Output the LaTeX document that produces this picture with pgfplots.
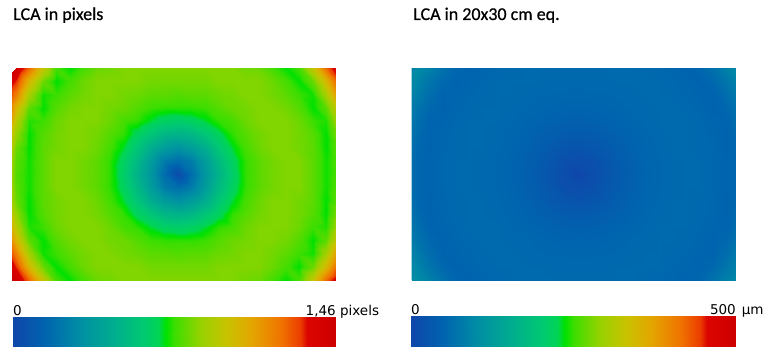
\documentclass[border=0pt]{standalone}
\usepackage{pgfplots}
\usepackage{pgfplotstable}
\pgfplotsset{compat=1.18}
\usepackage{fontspec}
\setmainfont{Carlito}
\newfontfamily\titlefont{Carlito}[FakeBold=0.6]
\newfontfamily\lblfont{DejaVu Sans}

\tikzset{cblabel/.style={inner sep=0pt, yshift=2pt, font=\lblfont\fontsize{13.5}{16}\selectfont}}

\pgfplotsset{
  colormap={lca}{
    rgb255(0pt)=(15,70,170)
    rgb255(100pt)=(0,100,175)
    rgb255(200pt)=(0,140,165)
    rgb255(300pt)=(0,170,145)
    rgb255(400pt)=(0,200,115)
    rgb255(450pt)=(0,213,85)
    rgb255(473pt)=(0,225,0)
    rgb255(500pt)=(60,222,0)
    rgb255(580pt)=(150,210,0)
    rgb255(660pt)=(200,195,0)
    rgb255(740pt)=(228,165,0)
    rgb255(830pt)=(240,115,0)
    rgb255(890pt)=(235,60,0)
    rgb255(910pt)=(220,5,0)
    rgb255(1000pt)=(205,0,0)
  },
  heat/.style={
    anchor=south west,
    width=324pt, height=212pt, scale only axis,
    view={0}{90},
    xmin=0.7037, xmax=24.7037, ymin=0, ymax=16, zmin=-1, zmax=1,
    hide axis,
    colormap name=lca,
    title style={at={(0,1)}, anchor=base west, inner sep=0pt, yshift=42pt,
      font=\titlefont\fontsize{18}{21}\selectfont},
  },
  cbar/.style={
    anchor=south west, scale only axis,
    view={0}{90}, ymin=0, ymax=1, zmin=-1, zmax=1,
    hide axis, colormap name=lca,
  },
}

% LCA in pixels, grid 26 x 17 (13.5 px x 13.25 px), rows bottom to top
\pgfplotstableread[row sep=\\]{
v\\
1.46\\1.45\\1.23\\0.95\\0.74\\0.69\\0.74\\0.79\\0.80\\0.82\\0.82\\0.82\\0.82\\0.82\\0.82\\0.82\\0.82\\0.82\\0.80\\0.79\\0.74\\0.69\\0.74\\0.95\\1.23\\1.45\\
1.46\\1.31\\1.02\\0.79\\0.69\\0.74\\0.79\\0.82\\0.82\\0.82\\0.82\\0.80\\0.80\\0.80\\0.80\\0.80\\0.82\\0.82\\0.82\\0.82\\0.79\\0.74\\0.69\\0.79\\1.02\\1.31\\
1.43\\1.18\\0.88\\0.70\\0.73\\0.77\\0.80\\0.82\\0.82\\0.80\\0.79\\0.77\\0.77\\0.76\\0.77\\0.77\\0.79\\0.80\\0.82\\0.82\\0.80\\0.77\\0.73\\0.70\\0.88\\1.18\\
1.34\\1.02\\0.77\\0.69\\0.76\\0.80\\0.82\\0.82\\0.80\\0.79\\0.76\\0.73\\0.72\\0.72\\0.72\\0.73\\0.76\\0.79\\0.80\\0.82\\0.82\\0.80\\0.76\\0.69\\0.77\\1.02\\
1.24\\0.92\\0.71\\0.73\\0.79\\0.82\\0.82\\0.82\\0.79\\0.74\\0.72\\0.67\\0.63\\0.61\\0.63\\0.67\\0.72\\0.74\\0.79\\0.82\\0.82\\0.82\\0.79\\0.73\\0.71\\0.92\\
1.17\\0.85\\0.69\\0.76\\0.80\\0.82\\0.82\\0.80\\0.76\\0.72\\0.64\\0.57\\0.50\\0.48\\0.50\\0.57\\0.64\\0.72\\0.76\\0.80\\0.82\\0.82\\0.80\\0.76\\0.69\\0.85\\
1.10\\0.79\\0.69\\0.77\\0.80\\0.82\\0.82\\0.79\\0.74\\0.67\\0.57\\0.45\\0.37\\0.32\\0.37\\0.45\\0.57\\0.67\\0.74\\0.79\\0.82\\0.82\\0.80\\0.77\\0.69\\0.79\\
1.05\\0.77\\0.70\\0.77\\0.82\\0.82\\0.80\\0.77\\0.72\\0.63\\0.51\\0.37\\0.23\\0.18\\0.23\\0.37\\0.51\\0.63\\0.72\\0.77\\0.80\\0.82\\0.82\\0.77\\0.70\\0.77\\
1.04\\0.76\\0.70\\0.77\\0.82\\0.82\\0.80\\0.77\\0.72\\0.61\\0.48\\0.34\\0.18\\0.03\\0.18\\0.34\\0.48\\0.61\\0.72\\0.77\\0.80\\0.82\\0.82\\0.77\\0.70\\0.76\\
1.05\\0.77\\0.70\\0.77\\0.82\\0.82\\0.80\\0.77\\0.72\\0.63\\0.51\\0.37\\0.23\\0.18\\0.23\\0.37\\0.51\\0.63\\0.72\\0.77\\0.80\\0.82\\0.82\\0.77\\0.70\\0.77\\
1.10\\0.79\\0.69\\0.77\\0.80\\0.82\\0.82\\0.79\\0.74\\0.67\\0.57\\0.45\\0.37\\0.32\\0.37\\0.45\\0.57\\0.67\\0.74\\0.79\\0.82\\0.82\\0.80\\0.77\\0.69\\0.79\\
1.17\\0.85\\0.69\\0.76\\0.80\\0.82\\0.82\\0.80\\0.76\\0.72\\0.64\\0.57\\0.50\\0.48\\0.50\\0.57\\0.64\\0.72\\0.76\\0.80\\0.82\\0.82\\0.80\\0.76\\0.69\\0.85\\
1.24\\0.92\\0.71\\0.73\\0.79\\0.82\\0.82\\0.82\\0.79\\0.74\\0.72\\0.67\\0.63\\0.61\\0.63\\0.67\\0.72\\0.74\\0.79\\0.82\\0.82\\0.82\\0.79\\0.73\\0.71\\0.92\\
1.34\\1.02\\0.77\\0.69\\0.76\\0.80\\0.82\\0.82\\0.80\\0.79\\0.76\\0.73\\0.72\\0.72\\0.72\\0.73\\0.76\\0.79\\0.80\\0.82\\0.82\\0.80\\0.76\\0.69\\0.77\\1.02\\
1.43\\1.18\\0.88\\0.70\\0.73\\0.77\\0.80\\0.82\\0.82\\0.80\\0.79\\0.77\\0.77\\0.76\\0.77\\0.77\\0.79\\0.80\\0.82\\0.82\\0.80\\0.77\\0.73\\0.70\\0.88\\1.18\\
1.46\\1.31\\1.02\\0.79\\0.69\\0.74\\0.79\\0.82\\0.82\\0.82\\0.82\\0.80\\0.80\\0.80\\0.80\\0.80\\0.82\\0.82\\0.82\\0.82\\0.79\\0.74\\0.69\\0.79\\1.02\\1.31\\
1.46\\1.45\\1.23\\0.95\\0.74\\0.69\\0.74\\0.79\\0.80\\0.82\\0.82\\0.82\\0.82\\0.82\\0.82\\0.82\\0.82\\0.82\\0.80\\0.79\\0.74\\0.69\\0.74\\0.95\\1.23\\1.45\\
}\lcapx

% LCA in micrometres (20x30 cm print equivalent), same grid
\pgfplotstableread[row sep=\\]{
v\\
102\\101\\86\\66\\52\\48\\52\\55\\56\\57\\57\\57\\57\\57\\57\\57\\57\\57\\56\\55\\52\\48\\52\\66\\86\\101\\
102\\92\\71\\55\\48\\52\\55\\57\\57\\57\\57\\56\\56\\56\\56\\56\\57\\57\\57\\57\\55\\52\\48\\55\\71\\92\\
100\\83\\61\\49\\51\\54\\56\\57\\57\\56\\55\\54\\54\\53\\54\\54\\55\\56\\57\\57\\56\\54\\51\\49\\61\\83\\
94\\71\\54\\48\\53\\56\\57\\57\\56\\55\\53\\51\\50\\50\\50\\51\\53\\55\\56\\57\\57\\56\\53\\48\\54\\71\\
87\\64\\49\\51\\55\\57\\57\\57\\55\\52\\50\\47\\44\\43\\44\\47\\50\\52\\55\\57\\57\\57\\55\\51\\49\\64\\
82\\59\\48\\53\\56\\57\\57\\56\\53\\50\\45\\40\\35\\34\\35\\40\\45\\50\\53\\56\\57\\57\\56\\53\\48\\59\\
77\\55\\48\\54\\56\\57\\57\\55\\52\\47\\40\\32\\26\\22\\26\\32\\40\\47\\52\\55\\57\\57\\56\\54\\48\\55\\
73\\54\\49\\54\\57\\57\\56\\54\\51\\44\\36\\26\\16\\12\\16\\26\\36\\44\\51\\54\\56\\57\\57\\54\\49\\54\\
72\\53\\49\\54\\57\\57\\56\\54\\50\\43\\34\\23\\12\\2\\12\\23\\34\\43\\50\\54\\56\\57\\57\\54\\49\\53\\
73\\54\\49\\54\\57\\57\\56\\54\\51\\44\\36\\26\\16\\12\\16\\26\\36\\44\\51\\54\\56\\57\\57\\54\\49\\54\\
77\\55\\48\\54\\56\\57\\57\\55\\52\\47\\40\\32\\26\\22\\26\\32\\40\\47\\52\\55\\57\\57\\56\\54\\48\\55\\
82\\59\\48\\53\\56\\57\\57\\56\\53\\50\\45\\40\\35\\34\\35\\40\\45\\50\\53\\56\\57\\57\\56\\53\\48\\59\\
87\\64\\49\\51\\55\\57\\57\\57\\55\\52\\50\\47\\44\\43\\44\\47\\50\\52\\55\\57\\57\\57\\55\\51\\49\\64\\
94\\71\\54\\48\\53\\56\\57\\57\\56\\55\\53\\51\\50\\50\\50\\51\\53\\55\\56\\57\\57\\56\\53\\48\\54\\71\\
100\\83\\61\\49\\51\\54\\56\\57\\57\\56\\55\\54\\54\\53\\54\\54\\55\\56\\57\\57\\56\\54\\51\\49\\61\\83\\
102\\92\\71\\55\\48\\52\\55\\57\\57\\57\\57\\56\\56\\56\\56\\56\\57\\57\\57\\57\\55\\52\\48\\55\\71\\92\\
102\\101\\86\\66\\52\\48\\52\\55\\56\\57\\57\\57\\57\\57\\57\\57\\57\\57\\56\\55\\52\\48\\52\\66\\86\\101\\
}\lcaum

\begin{document}
\begin{tikzpicture}
\useasboundingbox (0,0) rectangle (770pt,354pt);

% left heatmap
\begin{axis}[heat, at={(12pt,74pt)},
  point meta min=0, point meta max=1.46,
  title={LCA in pixels}, title style={xshift=1pt}]
\addplot3[surf, shader=interp, mesh/cols=26, point meta=explicit]
  table[x index=0, y index=0, z index=0, meta index=0,
        x expr={mod(\coordindex,26)}, y expr={floor(\coordindex/26)}, z expr=0] {\lcapx};
\end{axis}

% left colour scale
\begin{axis}[cbar, at={(13pt,8pt)}, width=323pt, height=29pt,
  xmin=0, xmax=1.46, point meta min=0, point meta max=1.46,
  extra description/.code={
    \node[cblabel, anchor=base west] at (rel axis cs:0,1) {0};
    \node[cblabel, anchor=base east] at (rel axis cs:1,1) {1,46\rlap{ pixels}};
  }]
\addplot3[surf, shader=interp, mesh/cols=2, point meta=x]
  coordinates {(0,0,0) (1.46,0,0) (0,1,0) (1.46,1,0)};
\end{axis}

% right heatmap
\begin{axis}[heat, at={(411.5pt,74pt)},
  axis background/.style={fill={rgb,255:red,0;green,128;blue,168}},
  point meta min=0, point meta max=500,
  title={LCA in 20x30 cm eq.}, title style={xshift=1.5pt}]
\addplot3[surf, shader=interp, mesh/cols=26, point meta=explicit]
  table[x index=0, y index=0, z index=0, meta index=0,
        x expr={mod(\coordindex,26)}, y expr={floor(\coordindex/26)}, z expr=0] {\lcaum};
\end{axis}

% right colour scale
\begin{axis}[cbar, at={(411pt,8pt)}, width=325pt, height=30pt,
  xmin=0, xmax=500, point meta min=0, point meta max=500,
  extra description/.code={
    \node[cblabel, anchor=base west] at (rel axis cs:0,1) {0};
    \node[cblabel, anchor=base east] at (rel axis cs:1,1) {500\rlap{\hspace{6pt}µm}};
  }]
\addplot3[surf, shader=interp, mesh/cols=2, point meta=x]
  coordinates {(0,0,0) (500,0,0) (0,1,0) (500,1,0)};
\end{axis}
\end{tikzpicture}
\end{document}
